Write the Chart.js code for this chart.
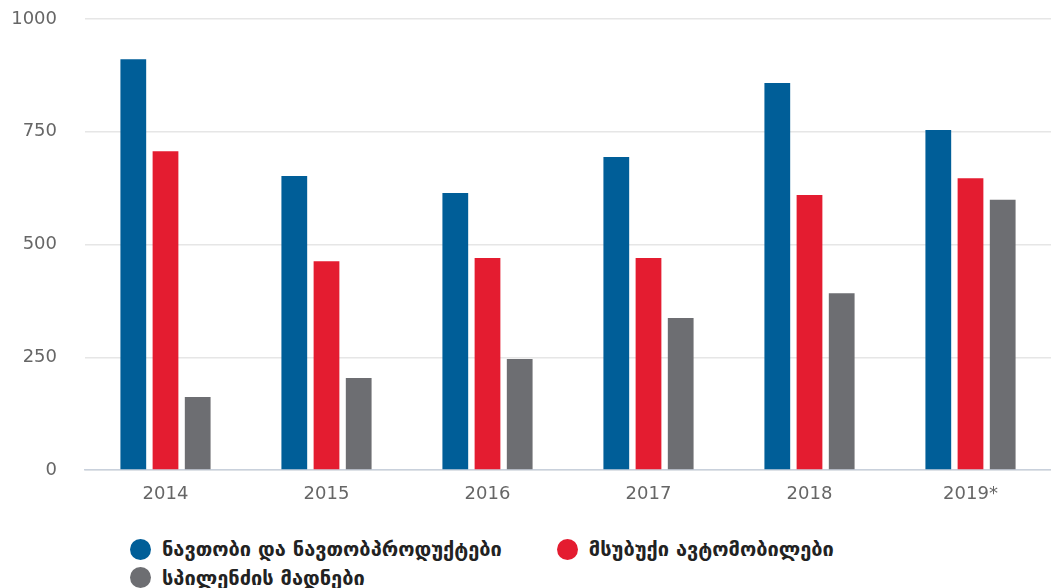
<!DOCTYPE html>
<html>
<head>
<meta charset="utf-8">
<script src="https://cdn.jsdelivr.net/npm/chart.js@4"></script>
<style>
  body { margin: 0; background: #fff; }
  #wrap { position: relative; width: 1051px; height: 588px; }
  #chartBox { position: absolute; left: 0; top: 0; width: 1051px; height: 510px; }
  #legend { position: absolute; left: 130px; top: 536px; width: 900px;
            font-family: "DejaVu Sans", sans-serif; font-weight: bold; font-size: 20px; color: #222; }
  .item { display: inline-flex; align-items: center; height: 26px; margin-right: 55px; }
  .dot { width: 21px; height: 21px; border-radius: 50%; margin-right: 11px; }
</style>
</head>
<body>
<div id="wrap">
  <div id="chartBox"><canvas id="barChart"></canvas></div>
  <div id="legend"></div>
</div>
<script>
const years = ["2014", "2015", "2016", "2017", "2018", "2019*"];
const seriesNames = ["ნავთობი და ნავთობპროდუქტები", "მსუბუქი ავტომობილები", "სპილენძის მადნები"];
const oilValues = [911, 652, 614, 694, 858, 754];
const carValues = [707, 463, 470, 470, 610, 647];
const copperValues = [162, 204, 246, 337, 392, 599];
const yTicks = [0, 250, 500, 750, 1000];
const colors = ['#005e98', '#e41c30', '#6d6e72'];

const ctx = document.getElementById('barChart');

const chart = new Chart(
    ctx, {
        type: 'bar',
        data: {
            labels: years,
            datasets: [
                { label: seriesNames[0], data: oilValues, backgroundColor: colors[0] },
                { label: seriesNames[1], data: carValues, backgroundColor: colors[1] },
                { label: seriesNames[2], data: copperValues, backgroundColor: colors[2] }
            ]
        },
        options: {
            responsive: true,
            maintainAspectRatio: false,
            animation: false,
            layout: { padding: { top: 19, right: 0, bottom: 4, left: 10 } },
            plugins: {
                legend: { display: false },
                tooltip: { enabled: false }
            },
            datasets: { bar: { categoryPercentage: 0.6, barPercentage: 0.8 } },
            scales: {
                x: {
                    afterFit: axis => { axis.height = 36; },
                    grid: { display: false, drawTicks: false },
                    border: { color: '#c9d1dc', width: 1.5 },
                    ticks: { color: '#666', padding: 14, font: { family: 'DejaVu Sans', size: 18 } }
                },
                y: {
                    min: 0,
                    max: 1000,
                    afterBuildTicks: axis => { axis.ticks = yTicks.map(v => ({ value: v })); },
                    afterFit: axis => {
                        axis.width = 75;
                        axis.paddingTop = 10;
                        axis.paddingBottom = 10;
                    },
                    grid: { color: '#e6e6e6', lineWidth: 1.5, drawTicks: false },
                    border: { display: false },
                    ticks: {
                        color: '#666', padding: 28, font: { family: 'DejaVu Sans', size: 18 },
                        callback: v => String(v)
                    }
                }
            }
        }
    }
);

// legend: two items on the first row, the third below
const legend = document.getElementById('legend');
seriesNames.forEach((name, i) => {
    const item = document.createElement('span');
    item.className = 'item';
    item.innerHTML = '<span class="dot" style="background:' + colors[i] + '"></span>' + name;
    legend.appendChild(item);
    if (i === 1) legend.appendChild(document.createElement('br'));
});
</script>
</body>
</html>
